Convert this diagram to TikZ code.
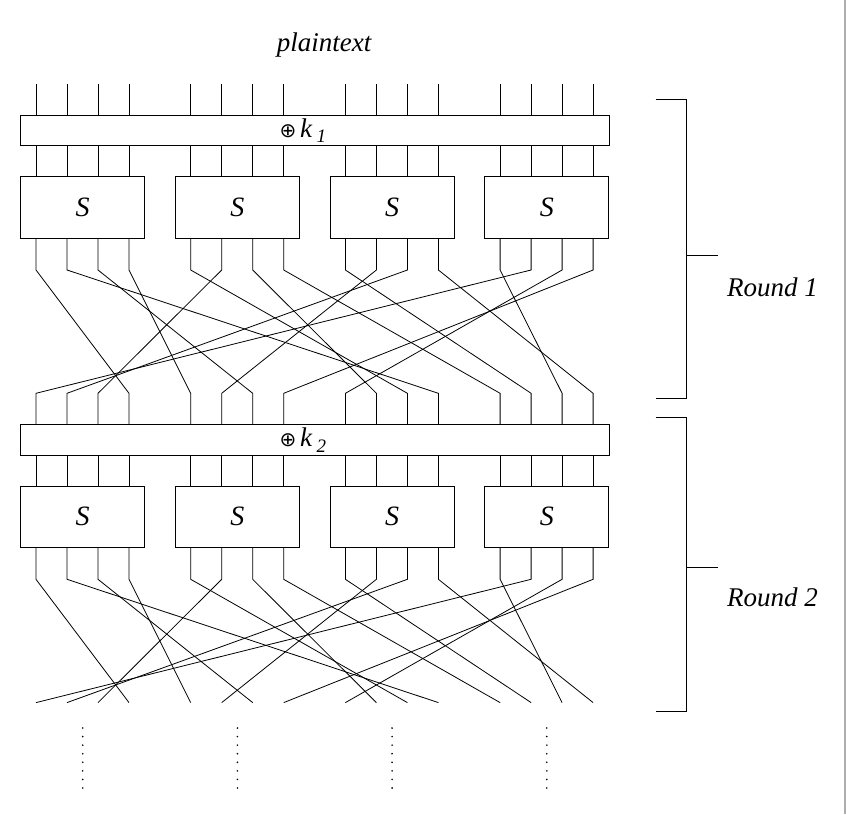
\documentclass[tikz,border=0pt]{standalone}
\usepackage{fontspec}
\setmainfont{Liberation Serif}
\newfontfamily\symfont{DejaVu Sans}
\begin{document}
\begin{tikzpicture}[x=1pt,y=-1pt,line width=0.8pt,
  keybox/.style={draw,minimum width=588.6pt,minimum height=30.7pt,inner sep=0pt,outer sep=0pt},
  sbox/.style={draw,minimum width=124pt,minimum height=61.6pt,inner sep=0pt,outer sep=0pt,
    font=\fontsize{28}{30}\selectfont\itshape},
  wire/.style={draw,line width=0.8pt},
  lbl/.style={font=\fontsize{27}{30}\selectfont\itshape,inner sep=0pt,outer sep=0pt},
  sub/.style={font=\fontsize{19}{21}\selectfont\itshape,inner sep=0pt,outer sep=0pt},
  xorsym/.style={font=\fontsize{20}{20}\selectfont\symfont,inner sep=0pt,outer sep=0pt},
  bracket/.style={draw,line width=0.9pt},
  dotmark/.style={fill=black},
  border/.style={draw=black!32,line width=2pt}]
\useasboundingbox (0,0) rectangle (846,814);

% title
\node[lbl,anchor=base] (title) at (324,51) {plaintext};

% key boxes
\node[keybox] (kA) at (315,130.35) {};
\node[keybox] (kB) at (315,439.65) {};
\node[xorsym] (xA) at (288,131) {⊕};
\node[lbl,anchor=base west] (kkA) at (300,137.3) {k};
\node[sub,anchor=base west] (nA) at (316.5,142.7) {1};
\node[xorsym] (xB) at (288,440.3) {⊕};
\node[lbl,anchor=base west] (kkB) at (300,446.6) {k};
\node[sub,anchor=base west] (nB) at (316.5,452) {2};

% S boxes
\foreach \g in {1,2,3,4} {
  \pgfmathsetmacro\cx{82.7+154.7*(\g-1)}
  \node[sbox] (sA\g) at (\cx,207.5) {S};
  \node[sbox] (sB\g) at (\cx,516.8) {S};
}

% wires with permutation
\foreach \i/\p in {0/3,1/11,2/6,3/4,4/10,5/2,6/9,7/12,8/13,9/5,10/1,11/15,12/14,13/0,14/8,15/7} {
  \pgfmathsetmacro\xa{36+31*mod(\i,4)+154.7*int(\i/4)}
  \pgfmathsetmacro\xb{36+31*mod(\p,4)+154.7*int(\p/4)}
  \pgfmathtruncatemacro\g{int(\i/4)+1}
  \coordinate (w) at (\xa,84);
  \coordinate (v) at (\xb,393.3);
  \coordinate (u) at (\xb,702.6);
  \draw[wire] (w) -- (w |- kA.north);
  \draw[wire] (w |- kA.south) -- (w |- sA\g.north);
  \draw[wire] (w |- sA\g.south) -- ++(0,31.7) -- (v) -- (v |- kB.north);
  \draw[wire] (w |- kB.south) -- (w |- sB\g.north);
  \draw[wire] (w |- sB\g.south) -- ++(0,31.7) -- (u);
}

% dotted continuation
\foreach \g in {0,1,2,3} {
  \pgfmathsetmacro\cx{82.7+154.7*\g}
  \foreach \k in {0,...,7} {
    \fill[dotmark] (\cx,728+8.57*\k) circle (0.9);
  }
}

% round brackets
\coordinate (bA1) at (655.7,99.3);
\coordinate (bA2) at (686.7,99.3);
\coordinate (bA3) at (686.7,398.5);
\coordinate (bA4) at (655.7,398.5);
\coordinate (tA1) at (686.7,255.7);
\coordinate (tA2) at (717.7,255.7);
\draw[bracket] (bA1) -- (bA2) -- (bA3) -- (bA4);
\draw[bracket] (tA1) -- (tA2);
\node[lbl,anchor=base west] (rA) at (727,296) {Round 1};

\coordinate (bB1) at (655.7,417);
\coordinate (bB2) at (686.7,417);
\coordinate (bB3) at (686.7,711);
\coordinate (bB4) at (655.7,711);
\coordinate (tB1) at (686.7,567);
\coordinate (tB2) at (717.7,567);
\draw[bracket] (bB1) -- (bB2) -- (bB3) -- (bB4);
\draw[bracket] (tB1) -- (tB2);
\node[lbl,anchor=base west] (rB) at (727,606) {Round 2};

% right page edge
\coordinate (e1) at (844.8,0);
\coordinate (e2) at (844.8,814);
\draw[border] (e1) -- (e2);
\end{tikzpicture}
\end{document}
